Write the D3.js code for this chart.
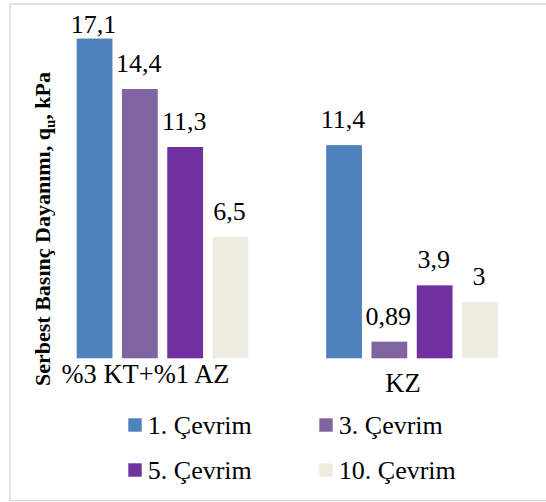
<!DOCTYPE html>
<html>
<head>
<meta charset="utf-8">
<script src="https://cdn.jsdelivr.net/npm/d3@7/dist/d3.min.js"></script>
<style>
  html, body { margin: 0; padding: 0; background: #ffffff; }
  svg { display: block; }
</style>
</head>
<body>
<script>
// Mixtures (x categories) and freeze–thaw cycle series
const categories = ["%3 KT+%1 AZ", "KZ"];
const seriesNames = ["1. Çevrim", "3. Çevrim", "5. Çevrim", "10. Çevrim"];
const seriesColors = ["#4f81bd", "#8064a2", "#7030a0", "#eeece1"];

// Unconfined compressive strength values, one array per cycle
const cycle1 = [17.1, 11.4];
const cycle3 = [14.4, 0.89];
const cycle5 = [11.3, 3.9];
const cycle10 = [6.5, 3];
const seriesValues = [cycle1, cycle3, cycle5, cycle10];

const FONT = "'Liberation Serif', Tinos, 'Times New Roman', 'DejaVu Serif', serif";

const W = 546, H = 502;
const svg = d3.select("body").append("svg").attr("width", W).attr("height", H)
  .style("font-family", FONT);

// chart frame
svg.append("rect")
  .attr("x", 10).attr("y", 4)
  .attr("width", 545).attr("height", 496.5)
  .attr("fill", "none").attr("stroke", "#d9d9d9").attr("stroke-width", 1.5);

// plot geometry
const plotLeft = 37.75, plotRight = 536.75;
const baseY = 358.3, unitPx = 18.7, yMax = 18;

const x0 = d3.scaleBand().domain(categories).range([plotLeft, plotRight]).padding(0);
const slot = 45.3;
const x1 = d3.scaleBand().domain(seriesNames)
  .range([x0.bandwidth() / 2 - slot * 2.105, x0.bandwidth() / 2 + slot * 2.105])
  .padding(0.21);
const y = d3.scaleLinear().domain([0, yMax]).range([baseY, baseY - yMax * unitPx]);

const rows = [];
categories.forEach((c, ci) => {
  seriesNames.forEach((s, si) => {
    rows.push({ cat: c, series: s, value: seriesValues[si][ci], color: seriesColors[si] });
  });
});

const g = svg.append("g");

// bars
g.selectAll("rect.bar").data(rows).enter().append("rect")
  .attr("class", "bar")
  .attr("x", d => x0(d.cat) + x1(d.series))
  .attr("y", d => y(d.value))
  .attr("width", x1.bandwidth())
  .attr("height", d => baseY - y(d.value))
  .attr("fill", d => d.color);

// value labels (kept inside the chart area at the top)
const fmt = v => String(v).replace(".", ",");
g.selectAll("text.val").data(rows).enter().append("text")
  .attr("class", "val")
  .attr("x", d => x0(d.cat) + x1(d.series) + x1.bandwidth() / 2 - 1)
  .attr("y", d => Math.max(y(d.value) - 17, 33))
  .attr("text-anchor", "middle")
  .style("font-family", FONT)
  .attr("font-size", 26)
  .attr("fill", "#000")
  .text(d => fmt(d.value));

// category axis labels
const catShift = [[-17, 24.5], [-9, 34]];
const xAxis = d3.axisBottom(x0).tickSize(0).tickPadding(0);
const ax = svg.append("g").attr("transform", `translate(0,${baseY})`).call(xAxis);
ax.attr("font-family", null);
ax.select(".domain").remove();
ax.selectAll(".tick text")
  .style("font-family", FONT)
  .attr("font-size", 26.5)
  .attr("fill", "#000")
  .attr("dy", null)
  .attr("x", (d, i) => catShift[i][0])
  .attr("y", (d, i) => catShift[i][1]);

// y axis title
const yt = svg.append("text")
  .attr("transform", "translate(49.5,229) rotate(-90)")
  .attr("text-anchor", "middle")
  .style("font-family", FONT)
  .attr("font-size", 22)
  .attr("font-weight", "bold")
  .attr("fill", "#000");
yt.append("tspan").text("Serbest Basınç Dayanımı, q");
yt.append("tspan").attr("font-size", 15).attr("dy", 5).text("u");
yt.append("tspan").attr("dy", -5).text(", kPa");

// legend
const legX = [128.3, 319.3];
const legY = [418.3, 463.3];
const leg = svg.append("g");
seriesNames.forEach((s, i) => {
  const lx = legX[i % 2], ly = legY[Math.floor(i / 2)];
  leg.append("rect")
    .attr("x", lx).attr("y", ly)
    .attr("width", 13.4).attr("height", 13.4)
    .attr("fill", seriesColors[i]);
  leg.append("text")
    .attr("x", lx + 19.5).attr("y", ly + 16)
    .style("font-family", FONT)
    .attr("font-size", 26)
    .attr("fill", "#000")
    .text(s);
});
</script>
</body>
</html>
